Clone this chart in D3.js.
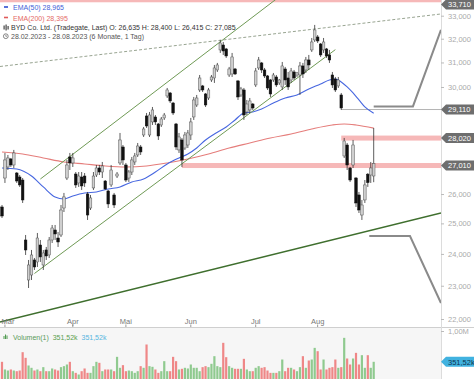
<!DOCTYPE html>
<html><head><meta charset="utf-8">
<script src="https://cdn.jsdelivr.net/npm/d3@7"></script>
<style>html,body{margin:0;padding:0;background:#fff;}svg{display:block;font-family:"Liberation Sans",Arial,sans-serif;}</style>
</head><body><svg id="c" width="474" height="379"></svg>
<script>
const dates = ["28.02",
"01.03","02.03","03.03","06.03","07.03","08.03","09.03","10.03","13.03","14.03","15.03","16.03","17.03","20.03","21.03","22.03","23.03","24.03","27.03","28.03","29.03","30.03","31.03",
"03.04","04.04","05.04","06.04","11.04","12.04","13.04","14.04","17.04","18.04","19.04","20.04","21.04","24.04","25.04","26.04","27.04","28.04",
"02.05","03.05","04.05","05.05","08.05","09.05","10.05","11.05","12.05","15.05","16.05","17.05","18.05","19.05","22.05","23.05","24.05","25.05","26.05","29.05","30.05","31.05",
"01.06","02.06","05.06","06.06","07.06","08.06","09.06","12.06","13.06","14.06","15.06","16.06","19.06","20.06","21.06","22.06","23.06","26.06","27.06","28.06","29.06","30.06",
"03.07","04.07","05.07","06.07","07.07","10.07","11.07","12.07","13.07","14.07","17.07","18.07","19.07","20.07","21.07","24.07","25.07","26.07","27.07","28.07","31.07",
"01.08","02.08","03.08","04.08","07.08","08.08","09.08","10.08","11.08","14.08","15.08","16.08","17.08","18.08","21.08","22.08","23.08","24.08","25.08","28.08"];

const open = [25554,26563,26958,27248,27030,26741,26599,26492,24451,23178,23333,23806,23743,24288,23648,24127,23966,24451,24780,24516,
24615,25519,26563,27321,27103,26706,26388,26599,26634,26003,25519,26213,26670,26922,26777,26457,26107,26318,25968,26634,
27103,27688,27030,26563,26777,27139,27394,27688,28136,28860,28136,28631,28822,28553,28515,28784,29642,29761,29365,28553,
27579,27949,27651,27762,28136,28822,29287,29881,30042,29722,29563,30283,30364,30691,31523,31733,31565,30486,30527,30732,
30243,29682,29881,29015,29093,29326,30082,30773,30980,30691,30446,30283,30283,30405,30163,30002,30732,30364,30283,30609,
30486,30486,30856,30691,31104,31523,31947,32075,31776,31523,31565,31313,30486,30324,30042,29682,27358,27762,26922,27030,
26563,25968,25281,25795,26700,26670,26635];
const high = [25622,27468,27394,27285,27579,26777,26670,26563,24615,23806,24127,23870,24681,24451,24127,24224,24549,24946,24946,24714,
25622,26038,27212,27468,27468,26777,26777,26777,26741,26072,25968,26777,27030,27030,27139,26492,26142,27030,26038,26777,
28212,27762,27103,26849,27321,27468,27837,27762,28439,28976,29015,29209,28898,28591,28822,28976,29961,29801,29405,28591,
28212,28024,28250,28325,28784,29603,29682,30486,30082,29761,29961,30486,30897,30980,31947,31861,31607,30815,31397,30773,
30283,30002,29961,29484,29563,29365,30773,31229,31021,30773,30486,30324,30568,30486,30324,31021,30815,30609,30773,30691,
30609,31021,30980,31229,31313,32032,32595,32160,31818,32032,31607,31523,30609,30405,30405,29761,28024,27837,26958,27949,
26599,26072,25795,26492,26741,27139,28400];
const low = [25181,26388,26849,26958,26922,26388,26248,25691,23966,22931,23178,23490,23585,23743,23490,23806,23870,24353,24451,24224,
24549,25383,26492,26849,26958,26213,26248,26142,26248,25114,25451,26142,26599,26670,26563,26142,25519,26248,25519,26563,
27030,27030,26422,26422,26670,27030,27321,27394,28061,28401,28061,28515,28515,27949,28439,28707,29563,29365,28898,27579,
27468,26958,27579,27651,27949,28707,29209,29801,29801,29209,29484,30203,30163,30609,31397,31313,31188,30405,30405,30486,
29484,29603,28707,28898,28976,29093,30002,30691,30568,30364,29881,29603,30203,30002,30082,29881,30082,29881,30163,30283,
30405,29682,30364,30568,30691,31439,31861,31818,31229,31397,31188,30980,29961,29801,29961,29093,27285,26849,26422,26922,
25554,25349,25114,25691,26248,26388,26415];
const close = [25248,27212,27285,27030,27468,26457,26318,25795,24127,23648,23966,23585,24516,23902,24030,23934,24451,24846,24648,24386,
25451,25899,27030,27103,27285,26318,26634,26283,26388,25281,25864,26634,26922,26777,26994,26177,25657,26849,25622,26706,
27949,27212,26492,26777,27212,27358,27725,27505,28363,28477,28898,29093,28631,28098,28745,28898,29881,29445,28976,27688,
28061,27212,28136,28212,28631,29484,29563,30364,29881,29287,29881,30405,30773,30897,31818,31480,31271,30732,31229,30527,
29603,29921,28898,29326,29445,29170,30650,31104,30691,30446,29961,29722,30486,30082,30283,30856,30283,30002,30650,30364,
30568,30856,30527,31104,30897,31861,32377,31904,31313,31861,31271,31104,30082,29881,30283,29170,27911,27030,26492,27762,
25691,25451,25622,26318,26400,26922,27085];
const volumeK = [351,190,168,190,168,154,168,554,435,274,225,168,190,154,239,154,154,211,190,168,
239,260,295,351,154,119,84,154,211,119,119,260,351,330,154,190,190,190,154,456,
225,281,154,168,154,119,154,260,225,716,260,246,190,119,154,365,154,154,456,365,
190,204,225,211,295,225,225,154,239,260,239,309,470,260,239,751,449,260,225,204,
204,204,414,190,154,154,225,260,225,239,168,119,119,119,154,400,154,225,225,190,
154,239,470,225,379,400,645,575,190,400,190,225,239,400,225,239,856,421,295,421,
540,295,491,225,491,225,351.52];

const ema50Dates = ["28.02","07.03","14.03","20.03","24.03","29.03","03.04","11.04","17.04","21.04","27.04","04.05","10.05","16.05","22.05","26.05","31.05","05.06","08.06","13.06","19.06","22.06","27.06","30.06","05.07","11.07","17.07","21.07","27.07","02.08","07.08","09.08","11.08","15.08","17.08","21.08","23.08","28.08"];
const ema50Vals = [26922,26885,26634,26248,25899,25830,25934,26038,26072,26177,26248,26422,26527,26777,27066,27285,27431,27651,27949,28174,28439,28707,28976,29015,29131,29365,29563,29682,29921,30122,30283,30324,30203,30002,29761,29484,29209,28965];
const ema200Dates = ["28.02","09.03","20.03","29.03","11.04","20.04","02.05","11.05","22.05","31.05","09.06","20.06","29.06","10.07","19.07","28.07","08.08","14.08","18.08","28.08"];
const ema200Vals = [27505,27431,27285,27139,27066,26994,26958,26994,27103,27248,27431,27651,27837,28024,28174,28363,28515,28553,28515,28395];

const priceTicks = [22000,23000,24000,25000,26000,30000,31000,32000,33000];
const monthLabels = ["Mar","Apr","Mai","Jun","Jul","Aug"];
const monthStarts = ["01.03","03.04","02.05","01.06","03.07","01.08"];

const zoneLevels = [33710, 28020, 27010];
const zoneStarts = ["28.02", "11.08", "29.05"];
const levelLine = 29110, levelStart = "11.08";
const tagLevels = [33710, 29110, 28020, 27010];

const trendStart = ["17.03","15.03","28.02","28.02"];
const trendStartP = [26527,23380,21927,30843];
const trendEnd = ["15.06","09.08","28.08","28.08"];
const trendEndP = [31870,31536,24790,32724];
const arrowUpBars = [126, 139.3, 148.8], arrowUpP = [29230, 29230, 32377];
const arrowDnBars = [124.5, 138.3, 148.8], arrowDnP = [24582, 24582, 22475];

const W = 474, H = 379, R = 441;
const svg = d3.select("#c");
svg.append("rect").attr("width", W).attr("height", H).attr("fill", "#fff");
svg.append("rect").attr("x", 0).attr("y", 328).attr("width", R).attr("height", 51).attr("fill", "#f6f6f6");

const y = d3.scaleLog().domain([22000, 33000]).range([319, 15.7]);
const xb = d3.scaleLinear().domain([0, dates.length - 1]).range([2, 373.7]);
const x = d => xb(dates.indexOf(d));
const vy = d3.scaleLinear().domain([0, 1000]).range([378.5, 331]);

const defs = svg.append("defs");
defs.append("clipPath").attr("id", "pc").append("rect").attr("x", 0).attr("y", 0).attr("width", R).attr("height", 327);
const g = svg.append("g").attr("clip-path", "url(#pc)");

zoneLevels.forEach((lv, k) => {
  const x0 = k === 0 ? 0 : x(zoneStarts[k]);
  g.append("rect").attr("x", x0).attr("y", y(lv) - 2.5).attr("width", R - x0).attr("height", 5).attr("fill", "#f6b8b8");
});
g.append("line").attr("x1", x(levelStart)).attr("x2", R).attr("y1", y(levelLine)).attr("y2", y(levelLine))
  .attr("stroke", "#a0a0a0").attr("stroke-width", 0.8);

const lineGen = d3.line().curve(d3.curveMonotoneX);
g.append("path").attr("d", lineGen(ema200Dates.map((d, i) => [x(d), y(ema200Vals[i])])))
  .attr("fill", "none").attr("stroke", "#e57d7b").attr("stroke-width", 1.1);
g.append("path").attr("d", lineGen(ema50Dates.map((d, i) => [x(d), y(ema50Vals[i])])))
  .attr("fill", "none").attr("stroke", "#4767e0").attr("stroke-width", 1.1);

function ext(p1, p2, back, fwd) {
  const dx = p2[0] - p1[0], dy = p2[1] - p1[1];
  const a = back ? (0 - p1[0]) / dx : 0, b = fwd ? (R - p1[0]) / dx : 1;
  return [[p1[0] + a * dx, p1[1] + a * dy], [p1[0] + b * dx, p1[1] + b * dy]];
}
const tStyle = [
  {c: "#6f9a55", w: 1, back: false, fwd: true, dash: null},
  {c: "#6f9a55", w: 1, back: false, fwd: false, dash: null},
  {c: "#3f6f2e", w: 1.5, back: true, fwd: true, dash: null},
  {c: "#8c9a84", w: 0.9, back: true, fwd: true, dash: "3,2"}
];
trendStart.forEach((d, k) => {
  const s = tStyle[k];
  const pts = ext([x(d), y(trendStartP[k])], [x(trendEnd[k]), y(trendEndP[k])], s.back, s.fwd);
  const ln = g.append("line").attr("x1", pts[0][0]).attr("y1", pts[0][1]).attr("x2", pts[1][0]).attr("y2", pts[1][1])
    .attr("stroke", s.c).attr("stroke-width", s.w);
  if (s.dash) ln.attr("stroke-dasharray", s.dash);
});

const cg = g.append("g");
dates.forEach((d, i) => {
  const cx = xb(i);
  const up = close[i] >= open[i];
  cg.append("line").attr("x1", cx).attr("x2", cx).attr("y1", y(high[i])).attr("y2", y(low[i]))
    .attr("stroke", "#333").attr("stroke-width", 0.8);
  const t = y(Math.max(open[i], close[i])), b = y(Math.min(open[i], close[i]));
  cg.append("rect").attr("x", cx - 1.3).attr("y", t).attr("width", 2.6).attr("height", Math.max(0.8, b - t))
    .attr("fill", up ? "#cfcfcf" : "#111").attr("stroke", up ? "#555" : "#111").attr("stroke-width", 0.5);
});

[[arrowUpBars, arrowUpP], [arrowDnBars, arrowDnP]].forEach(([bs, ps]) => {
  svg.append("path").attr("d", d3.line()(bs.map((b, k) => [xb(b), y(ps[k])])))
    .attr("fill", "none").attr("stroke", "#8a8a8a").attr("stroke-width", 2);
});

svg.append("line").attr("x1", 0).attr("x2", W).attr("y1", 327.5).attr("y2", 327.5).attr("stroke", "#cfcfcf").attr("stroke-width", 1);
svg.append("line").attr("x1", R + 0.5).attr("x2", R + 0.5).attr("y1", 0).attr("y2", H).attr("stroke", "#dcdcdc").attr("stroke-width", 1);

const ax = svg.append("g").attr("transform", `translate(${R},0)`)
  .call(d3.axisRight(y).tickValues(priceTicks).tickFormat(d3.format(",")).tickSize(3).tickPadding(4));
ax.select(".domain").remove();
ax.selectAll("line").attr("stroke", "#bbb");
ax.selectAll("text").attr("fill", "#aaa").attr("font-size", "7.5px").attr("font-family", "Liberation Sans, Arial, sans-serif");

const vax = svg.append("g").attr("transform", `translate(${R},0)`)
  .call(d3.axisRight(vy).tickValues([1000]).tickFormat(() => "1,00M").tickSize(3).tickPadding(4));
vax.select(".domain").remove();
vax.selectAll("line").attr("stroke", "#bbb");
vax.selectAll("text").attr("fill", "#aaa").attr("font-size", "7.5px").attr("font-family", "Liberation Sans, Arial, sans-serif");

monthStarts.forEach((d, k) => {
  const mx = x(d);
  svg.append("line").attr("x1", mx).attr("x2", mx).attr("y1", 324.5).attr("y2", 327).attr("stroke", "#999");
  svg.append("text").attr("x", Math.max(mx, 8)).attr("y", 323.5).attr("text-anchor", "middle")
    .attr("font-size", "7.5px").attr("fill", "#777").text(monthLabels[k]);
});

const vg = svg.append("g");
dates.forEach((d, i) => {
  const up = close[i] >= open[i];
  vg.append("rect").attr("x", xb(i) - 1.1).attr("y", vy(volumeK[i])).attr("width", 2.2)
    .attr("height", vy(0) - vy(volumeK[i]) + 1).attr("fill", up ? "#8fca8f" : "#ef8787");
});

function tag(yc, txt, fill, tcol) {
  yc = Math.max(yc, 4.5);
  svg.append("path").attr("d", `M${R},${yc} L${R + 5},${yc - 5} L${W},${yc - 5} L${W},${yc + 5} L${R + 5},${yc + 5} Z`).attr("fill", fill);
  svg.append("text").attr("x", R + 7).attr("y", yc + 2.7).attr("font-size", "7.5px").attr("fill", tcol).text(txt);
}
const fmt = d3.format(",");
tagLevels.forEach(lv => tag(y(lv), fmt(lv), "#6e6e6e", "#fff"));
tag(vy(volumeK[volumeK.length - 1]), "351,52k", "#41b2e0", "#0d3550");

const lg = svg.append("g").attr("font-size", "7px").style("white-space", "pre");
lg.append("rect").attr("x", 4).attr("y", 6.2).attr("width", 4).attr("height", 1.6).attr("fill", "#2f4fd0");
lg.append("text").attr("x", 13).attr("y", 10).attr("fill", "#3f5fd8").text("EMA(50)  28,965");
lg.append("rect").attr("x", 4).attr("y", 16.7).attr("width", 4).attr("height", 1.6).attr("fill", "#e05a5a");
lg.append("text").attr("x", 13).attr("y", 20.5).attr("fill", "#e46a66").text("EMA(200)  28,395");
[[3.5, 25.5, 4], [5.5, 24.5, 6], [7.5, 26, 3.5]].forEach(([ix, iy, ih]) =>
  lg.append("rect").attr("x", ix).attr("y", iy).attr("width", 1.2).attr("height", ih).attr("fill", "#444"));
lg.append("text").attr("x", 11).attr("y", 30).attr("fill", "#333")
  .text("BYD Co. Ltd. (Tradegate, Last)  O: 26,635  H: 28,400  L: 26,415  C: 27,085");
lg.append("circle").attr("cx", 5.8).attr("cy", 36.2).attr("r", 2.4).attr("fill", "none").attr("stroke", "#555").attr("stroke-width", 0.7);
lg.append("path").attr("d", "M5.8,34.8 L5.8,36.3 L7,36.3").attr("fill", "none").attr("stroke", "#555").attr("stroke-width", 0.6);
lg.append("text").attr("x", 11).attr("y", 38.8).attr("fill", "#555").text("28.02.2023 - 28.08.2023  (6 Monate, 1 Tag)");

[[3.5, 336, 3], [5, 334.5, 4.5], [6.5, 335.5, 3.5]].forEach(([ix, iy, ih]) =>
  svg.append("rect").attr("x", ix).attr("y", iy).attr("width", 1).attr("height", ih).attr("fill", "#4f9a4f"));
const vl = svg.append("text").attr("x", 13).attr("y", 340).attr("font-size", "7px").style("white-space", "pre");
vl.append("tspan").attr("fill", "#5a9a5a").text("Volumen(1)  ");
vl.append("tspan").attr("fill", "#5aa050").text("351,52k  ");
vl.append("tspan").attr("fill", "#55b5e0").text("351,52k");
</script></body></html>
